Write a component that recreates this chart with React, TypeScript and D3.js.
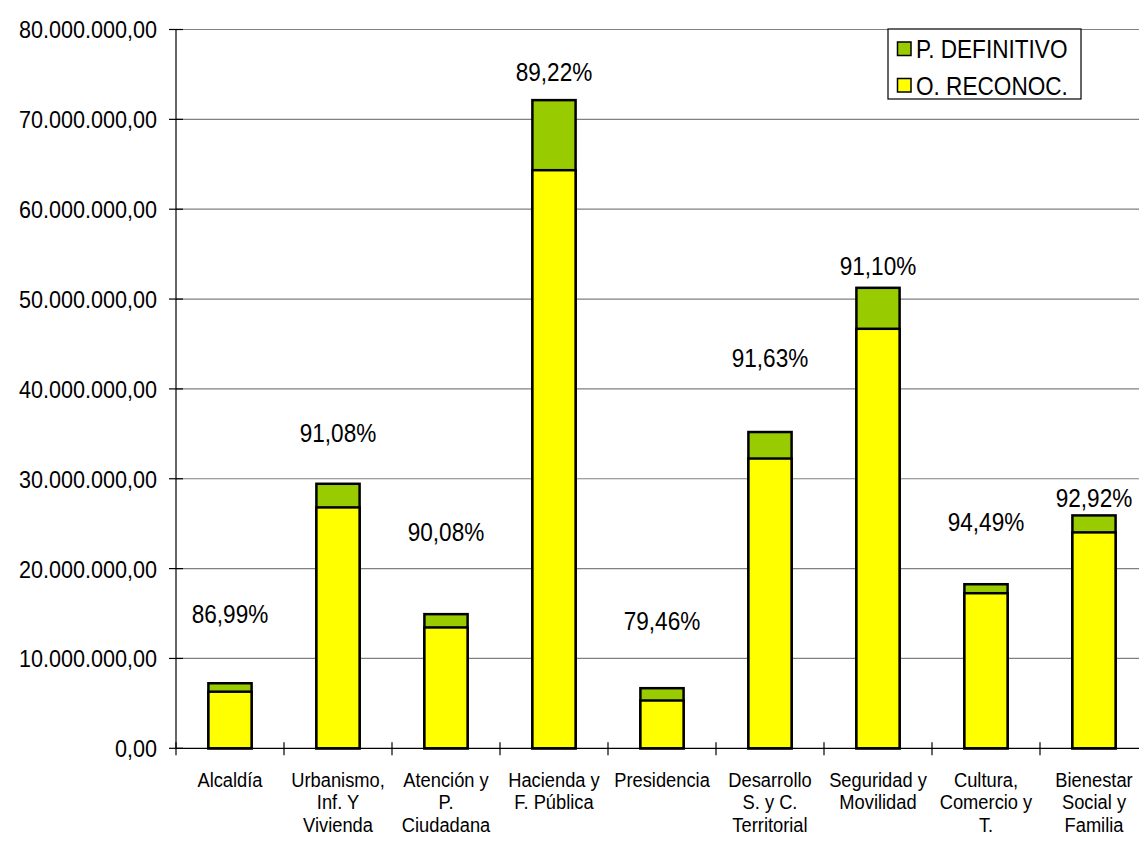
import React from "react";
import * as d3 from "d3";

const categories: string[][] = [
  ["Alcaldía"],
  ["Urbanismo,", "Inf. Y", "Vivienda"],
  ["Atención y", "P.", "Ciudadana"],
  ["Hacienda y", "F. Pública"],
  ["Presidencia"],
  ["Desarrollo", "S. y C.", "Territorial"],
  ["Seguridad y", "Movilidad"],
  ["Cultura,", "Comercio y", "T."],
  ["Bienestar", "Social y", "Familia"],
];
const pDefinitivo = [7.24e6, 29.44e6, 14.93e6, 72.14e6, 6.69e6, 35.2e6, 51.25e6, 18.26e6, 25.92e6];
const oReconoc = [6.3e6, 26.81e6, 13.45e6, 64.34e6, 5.32e6, 32.25e6, 46.69e6, 17.26e6, 24.03e6];
const pctLabels = ["86,99%", "91,08%", "90,08%", "89,22%", "79,46%", "91,63%", "91,10%", "94,49%", "92,92%"];
const pctLabelValue = [14.96e6, 35.1e6, 24.1e6, 75.3e6, 14.2e6, 43.5e6, 53.7e6, 25.2e6, 27.9e6];
const yTicks = [0, 10e6, 20e6, 30e6, 40e6, 50e6, 60e6, 70e6, 80e6];
const legendItems = [
  { label: "P. DEFINITIVO", color: "#99CC00" },
  { label: "O. RECONOC.", color: "#FFFF00" },
];

const W = 1139;
const H = 841;
const FONT = "'Liberation Sans', Arial, sans-serif";
const SY = 1.15;

const fmt = (v: number) => {
  const s = Math.round(v).toString().replace(/\B(?=(\d{3})+(?!\d))/g, ".");
  return s + ",00";
};

function T({ x, y, size, anchor = "start", children }: { x: number; y: number; size: number; anchor?: string; children: React.ReactNode }) {
  return (
    <text transform={`translate(${x},${y}) scale(1,${SY})`} dy="0.36em" textAnchor={anchor} fontSize={size} fill="#000">
      {children}
    </text>
  );
}

export default function App() {
  const x0 = 176;
  const keys = categories.map((_, i) => String(i));
  const x = d3.scaleBand<string>().domain(keys).range([x0, x0 + 9 * 108]).paddingInner(0.6).paddingOuter(0.3);
  const y = d3.scaleLinear().domain([0, 80e6]).range([748.3, 29.5]);
  const bw = x.bandwidth();
  const step = x.step();

  return (
    <svg width={W} height={H} style={{ position: "absolute", left: 0, top: 0, background: "#fff" }} fontFamily={FONT}>
      <rect x={0} y={0} width={W} height={H} fill="#fff" />
      {/* gridlines */}
      {yTicks.slice(1).map((t) => (
        <line key={"g" + t} x1={x0} x2={W} y1={y(t)} y2={y(t)} stroke="#808080" strokeWidth={1.2} />
      ))}
      {/* y tick labels and ticks */}
      {yTicks.map((t) => (
        <g key={"yt" + t}>
          <line x1={169} x2={183} y1={y(t)} y2={y(t)} stroke="#000" strokeWidth={1.2} />
          <T x={157} y={y(t)} size={21.6} anchor="end">{fmt(t)}</T>
        </g>
      ))}
      {/* bars */}
      {keys.map((k, i) => (
        <g key={"b" + k}>
          <rect x={x(k)} y={y(pDefinitivo[i])} width={bw} height={y(0) - y(pDefinitivo[i])} fill="#99CC00" stroke="#000" strokeWidth={2.5} />
          <rect x={x(k)} y={y(oReconoc[i])} width={bw} height={y(0) - y(oReconoc[i])} fill="#FFFF00" stroke="#000" strokeWidth={2.5} />
        </g>
      ))}
      {keys.map((k, i) => (
        <T key={"p" + k} x={(x(k) as number) + bw / 2} y={y(pctLabelValue[i])} size={22.6} anchor="middle">
          {pctLabels[i]}
        </T>
      ))}
      {/* axes */}
      <line x1={x0} x2={x0} y1={y(80e6)} y2={y(0)} stroke="#000" strokeWidth={1.2} />
      <line x1={x0} x2={W} y1={y(0)} y2={y(0)} stroke="#000" strokeWidth={1.2} />
      {d3.range(10).map((j) => (
        <line key={"xt" + j} x1={x0 + j * step} x2={x0 + j * step} y1={y(0) - 6} y2={y(0) + 7} stroke="#000" strokeWidth={1.2} />
      ))}
      {/* category labels */}
      {keys.map((k, i) =>
        categories[i].map((ln, li) => (
          <T key={"c" + k + "-" + li} x={(x(k) as number) + bw / 2} y={779.5 + li * 22.3} size={18.3} anchor="middle">
            {ln}
          </T>
        ))
      )}
      {/* legend */}
      <rect x={888} y={29} width={193} height={70} fill="#fff" stroke="#000" strokeWidth={1.2} />
      {legendItems.map((it, i) => (
        <g key={"l" + i}>
          <rect x={897.5} y={42 + i * 36.5} width={13.5} height={13.5} fill={it.color} stroke="#000" strokeWidth={1.5} />
          <T x={916} y={49 + i * 36.5} size={22.6}>{it.label}</T>
        </g>
      ))}
    </svg>
  );
}
